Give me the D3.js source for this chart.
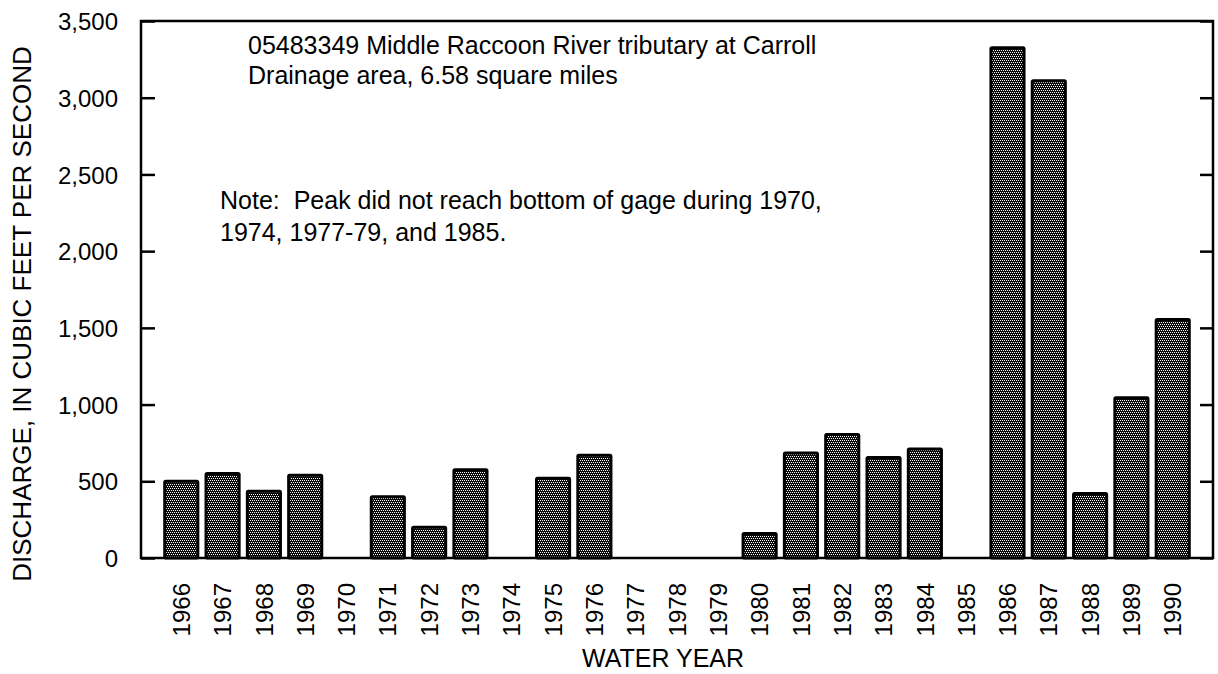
<!DOCTYPE html>
<html>
<head>
<meta charset="utf-8">
<style>
  body { margin: 0; background: #fff; }
  svg text {
    font-family: 'Liberation Sans', Arial, Helvetica, sans-serif;
    fill: #000;
  }
  .tick text { font-size: 24px; }
  .year-label { font-size: 24px; }
  .note { font-size: 25px; }
  .axis-title { font-size: 25px; }
</style>
</head>
<body>
<div id="chart"></div>
<script src="https://cdn.jsdelivr.net/npm/d3@7"></script>
<script>
  // peak discharge by water year (0 = peak below gage)
  var years = ["1966", "1967", "1968", "1969", "1970", "1971", "1972", "1973", "1974", "1975",
    "1976", "1977", "1978", "1979", "1980", "1981", "1982", "1983", "1984", "1985",
    "1986", "1987", "1988", "1989", "1990"];
  var discharge = [500, 550, 435, 540, 0, 400, 200, 575, 0, 520,
    670, 0, 0, 0, 160, 685, 805, 655, 710, 0,
    3325, 3110, 420, 1045, 1555];
  var yTicks = [0, 500, 1000, 1500, 2000, 2500, 3000, 3500];
  var titleLines = ["05483349 Middle Raccoon River tributary at Carroll", "Drainage area, 6.58 square miles"];
  var noteLines = ["Note:  Peak did not reach bottom of gage during 1970,", "1974, 1977-79, and 1985."];

  var width = 1218,
    height = 674;
  var plotLeft = 141, plotRight = 1213, plotTop = 21, plotBottom = 558;

  var svg = d3.select("#chart").append("svg")
    .attr("width", width)
    .attr("height", height);

  // stipple fill: black with a staggered grid of white dots
  var pat = svg.append("defs").append("pattern")
    .attr("id", "dots")
    .attr("patternUnits", "userSpaceOnUse")
    .attr("width", 4)
    .attr("height", 4);
  pat.append("rect").attr("width", 4).attr("height", 4).attr("fill", "#0a0a0a");
  [[0, 0], [2, 0], [1, 2], [3, 2]].forEach(function(p) {
    pat.append("rect").attr("x", p[0]).attr("y", p[1]).attr("width", 1).attr("height", 1).attr("fill", "#fff");
  });

  var x = d3.scaleBand()
    .domain(years)
    .range([plotLeft, plotRight])
    .paddingInner(0.15)
    .paddingOuter(0.55);

  var y = d3.scaleLinear()
    .domain([0, 3500])
    .range([plotBottom, plotTop]);

  // bars
  svg.append("g").selectAll("rect")
      .data(years.map(function(d, i) { return {year: d, value: discharge[i]}; })
        .filter(function(d) { return d.value > 0; }))
    .enter().append("rect")
      .attr("x", function(d) { return x(d.year) + 1; })
      .attr("y", function(d) { return y(d.value); })
      .attr("width", x.bandwidth() - 2)
      .attr("height", function(d) { return plotBottom - y(d.value); })
      .attr("rx", 1)
      .attr("fill", "url(#dots)")
      .attr("stroke", "#000")
      .attr("stroke-width", 3);

  // left axis, ticks inside
  var yAxis = svg.append("g")
    .attr("transform", "translate(" + plotLeft + ",0)")
    .call(d3.axisLeft(y).tickValues(yTicks).tickSizeInner(-14).tickSizeOuter(0)
      .tickPadding(23).tickFormat(d3.format(",")));
  yAxis.select(".domain").remove();
  yAxis.selectAll(".tick line").attr("stroke-width", 2.5);
  yAxis.selectAll(".tick text").attr("dy", "0.36em");

  // right axis, ticks only
  var yAxisR = svg.append("g")
    .attr("transform", "translate(" + plotRight + ",0)")
    .call(d3.axisRight(y).tickValues(yTicks).tickSizeInner(-13).tickSizeOuter(0).tickFormat(""));
  yAxisR.select(".domain").remove();
  yAxisR.selectAll(".tick line").attr("stroke-width", 2.5);

  // frame
  svg.append("rect")
    .attr("x", plotLeft)
    .attr("y", plotTop)
    .attr("width", plotRight - plotLeft)
    .attr("height", plotBottom - plotTop)
    .attr("fill", "none")
    .attr("stroke", "#000")
    .attr("stroke-width", 2.5);

  // x labels, rotated
  svg.append("g").selectAll("text")
      .data(years)
    .enter().append("text")
      .attr("class", "year-label")
      .attr("transform", function(d) { return "translate(" + (x(d) + x.bandwidth() / 2) + ",583) rotate(-90)"; })
      .attr("dy", "0.36em")
      .attr("text-anchor", "end")
      .text(function(d) { return d; });

  svg.append("text")
    .attr("class", "axis-title")
    .attr("x", 663)
    .attr("y", 667)
    .attr("text-anchor", "middle")
    .text("WATER YEAR");

  svg.append("text")
    .attr("class", "axis-title")
    .style("font-size", "26px")
    .attr("transform", "translate(31,314) rotate(-90)")
    .attr("text-anchor", "middle")
    .text("DISCHARGE, IN CUBIC FEET PER SECOND");

  svg.append("g").selectAll("text")
      .data(titleLines)
    .enter().append("text")
      .attr("class", "note")
      .attr("x", 248)
      .attr("y", function(d, i) { return 54 + i * 30; })
      .text(function(d) { return d; });

  svg.append("g").selectAll("text")
      .data(noteLines)
    .enter().append("text")
      .attr("class", "note")
      .attr("x", 220)
      .attr("y", function(d, i) { return 209 + i * 32; })
      .style("white-space", "pre")
      .text(function(d) { return d; });
</script>
</body>
</html>
